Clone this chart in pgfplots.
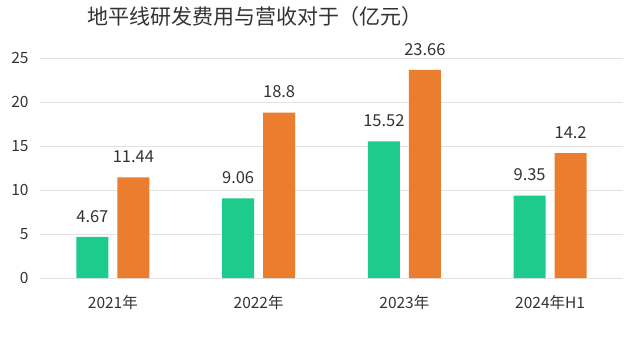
\documentclass[border=0pt]{standalone}
\usepackage{pgfplots}
\pgfplotsset{compat=1.18}
\usepackage{fontspec}
\setmainfont{Noto Sans CJK SC}
\definecolor{cgreen}{HTML}{1DCB8C}
\definecolor{corange}{HTML}{EB7D2E}
\definecolor{ctext}{HTML}{333333}
\definecolor{cgrid}{HTML}{E2E2E2}
\begin{document}
\begin{tikzpicture}[x=1pt,y=1pt]
\useasboundingbox (0,0) rectangle (640,357);
\begin{axis}[
  at={(40pt,79pt)}, anchor=south west,
  scale only axis, width=583pt, height=220pt,
  ybar=9pt, bar width=32pt,
  xmin=-0.5, xmax=3.5, ymin=0, ymax=25,
  xtick={0,1,2,3},
  xticklabels={2021年,2022年,2023年,2024年H1},
  ytick={0,5,10,15,20,25},
  axis line style={draw=none},
  major tick length=0pt,
  ymajorgrids, grid style={cgrid, line width=0.8pt},
  /pgf/number format/assume math mode=true,
  tick label style={font=\fontsize{15.5}{15.5}\selectfont, text=ctext},
  xticklabel style={yshift=-14pt},
  yticklabel style={xshift=-8pt},
  nodes near coords,
  nodes near coords style={font=\fontsize{16.5}{16.5}\selectfont, text=ctext, yshift=11pt},
  point meta=explicit symbolic,
]
\addplot[fill=cgreen, draw=none] coordinates {(0,4.67)[4.67] (1,9.06)[9.06] (2,15.52)[15.52] (3,9.35)[9.35]};
\addplot[fill=corange, draw=none] coordinates {(0,11.44)[11.44] (1,18.8)[18.8] (2,23.66)[23.66] (3,14.2)[14.2]};
\end{axis}
\node[font=\fontsize{21}{21}\selectfont, text=ctext] at (255,340) {地平线研发费用与营收对于（亿元）};
\end{tikzpicture}
\end{document}
